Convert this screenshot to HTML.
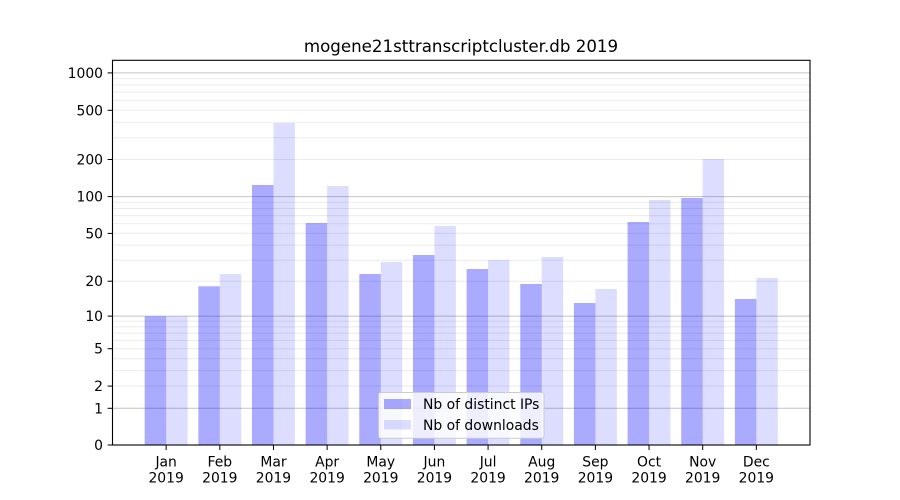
<!DOCTYPE html>
<html>
<head>
<meta charset="utf-8">
<style>
html,body{margin:0;padding:0;background:#fff;}
svg{display:block;}
text{font-family:"DejaVu Sans","Liberation Sans",sans-serif;fill:#000;}
</style>
</head>
<body>
<svg width="900" height="500" viewBox="0 0 900 500" xmlns="http://www.w3.org/2000/svg">
<rect x="0" y="0" width="900" height="500" fill="#fff"/>
<!-- minor grid -->
<g stroke="#ebebeb" stroke-width="1">
<line x1="112.5" x2="810" y1="386.1" y2="386.1"/>
<line x1="112.5" x2="810" y1="370.6" y2="370.6"/>
<line x1="112.5" x2="810" y1="358.6" y2="358.6"/>
<line x1="112.5" x2="810" y1="348.7" y2="348.7"/>
<line x1="112.5" x2="810" y1="340.4" y2="340.4"/>
<line x1="112.5" x2="810" y1="333.2" y2="333.2"/>
<line x1="112.5" x2="810" y1="326.9" y2="326.9"/>
<line x1="112.5" x2="810" y1="321.2" y2="321.2"/>
<line x1="112.5" x2="810" y1="281.2" y2="281.2"/>
<line x1="112.5" x2="810" y1="260.2" y2="260.2"/>
<line x1="112.5" x2="810" y1="245.2" y2="245.2"/>
<line x1="112.5" x2="810" y1="233.4" y2="233.4"/>
<line x1="112.5" x2="810" y1="223.7" y2="223.7"/>
<line x1="112.5" x2="810" y1="215.6" y2="215.6"/>
<line x1="112.5" x2="810" y1="208.5" y2="208.5"/>
<line x1="112.5" x2="810" y1="202.2" y2="202.2"/>
<line x1="112.5" x2="810" y1="159.5" y2="159.5"/>
<line x1="112.5" x2="810" y1="137.7" y2="137.7"/>
<line x1="112.5" x2="810" y1="122.3" y2="122.3"/>
<line x1="112.5" x2="810" y1="110.3" y2="110.3"/>
<line x1="112.5" x2="810" y1="100.4" y2="100.4"/>
<line x1="112.5" x2="810" y1="92.1" y2="92.1"/>
<line x1="112.5" x2="810" y1="85.0" y2="85.0"/>
<line x1="112.5" x2="810" y1="78.6" y2="78.6"/>
</g>
<!-- major grid -->
<g stroke="#c4c4c4" stroke-width="1">
<line x1="112.5" x2="810" y1="408.3" y2="408.3"/>
<line x1="112.5" x2="810" y1="316.1" y2="316.1"/>
<line x1="112.5" x2="810" y1="196.6" y2="196.6"/>
<line x1="112.5" x2="810" y1="72.9" y2="72.9"/>
</g>
<!-- bars: distinct IPs -->
<g fill="#0000ff" fill-opacity="0.333">
<rect x="144.69" y="316.3" width="21.46" height="128.7"/>
<rect x="198.35" y="286.3" width="21.46" height="158.7"/>
<rect x="252.00" y="185" width="21.46" height="260"/>
<rect x="305.66" y="223" width="21.46" height="222"/>
<rect x="359.31" y="274" width="21.46" height="171"/>
<rect x="412.96" y="255" width="21.46" height="190"/>
<rect x="466.62" y="269" width="21.46" height="176"/>
<rect x="520.27" y="284" width="21.46" height="161"/>
<rect x="573.92" y="303" width="21.46" height="142"/>
<rect x="627.58" y="222" width="21.46" height="223"/>
<rect x="681.23" y="198" width="21.46" height="247"/>
<rect x="734.89" y="299" width="21.46" height="146"/>
</g>
<!-- bars: downloads -->
<g fill="#0000ff" fill-opacity="0.135">
<rect x="166.15" y="316.3" width="21.46" height="128.7"/>
<rect x="219.81" y="274" width="21.46" height="171"/>
<rect x="273.46" y="123" width="21.46" height="322"/>
<rect x="327.12" y="186" width="21.46" height="259"/>
<rect x="380.77" y="262" width="21.46" height="183"/>
<rect x="434.42" y="226" width="21.46" height="219"/>
<rect x="488.08" y="260" width="21.46" height="185"/>
<rect x="541.73" y="257" width="21.46" height="188"/>
<rect x="595.38" y="289" width="21.46" height="156"/>
<rect x="649.04" y="200" width="21.46" height="245"/>
<rect x="702.69" y="159" width="21.46" height="286"/>
<rect x="756.35" y="278" width="21.46" height="167"/>
</g>
<!-- axes frame -->
<rect x="112.5" y="60.3" width="697.5" height="384.7" fill="none" stroke="#000" stroke-width="1.1"/>
<!-- y ticks -->
<g stroke="#000" stroke-width="1">
<line x1="107.6" x2="112.5" y1="445" y2="445"/>
<line x1="107.6" x2="112.5" y1="408.3" y2="408.3"/>
<line x1="107.6" x2="112.5" y1="386.1" y2="386.1"/>
<line x1="107.6" x2="112.5" y1="348.7" y2="348.7"/>
<line x1="107.6" x2="112.5" y1="316.1" y2="316.1"/>
<line x1="107.6" x2="112.5" y1="281.2" y2="281.2"/>
<line x1="107.6" x2="112.5" y1="233.4" y2="233.4"/>
<line x1="107.6" x2="112.5" y1="196.6" y2="196.6"/>
<line x1="107.6" x2="112.5" y1="159.5" y2="159.5"/>
<line x1="107.6" x2="112.5" y1="110.3" y2="110.3"/>
<line x1="107.6" x2="112.5" y1="72.9" y2="72.9"/>
</g>
<g font-size="13.9" text-anchor="end">
<text x="103" y="450">0</text>
<text x="103" y="413.3">1</text>
<text x="103" y="391.1">2</text>
<text x="103" y="353.7">5</text>
<text x="103" y="321.1">10</text>
<text x="103" y="286.2">20</text>
<text x="103" y="238.4">50</text>
<text x="103" y="201.6">100</text>
<text x="103" y="164.5">200</text>
<text x="103" y="115.3">500</text>
<text x="103" y="77.9">1000</text>
</g>
<!-- x ticks -->
<g stroke="#000" stroke-width="1">
<line x1="166.15" x2="166.15" y1="445" y2="450"/>
<line x1="219.81" x2="219.81" y1="445" y2="450"/>
<line x1="273.46" x2="273.46" y1="445" y2="450"/>
<line x1="327.12" x2="327.12" y1="445" y2="450"/>
<line x1="380.77" x2="380.77" y1="445" y2="450"/>
<line x1="434.42" x2="434.42" y1="445" y2="450"/>
<line x1="488.08" x2="488.08" y1="445" y2="450"/>
<line x1="541.73" x2="541.73" y1="445" y2="450"/>
<line x1="595.38" x2="595.38" y1="445" y2="450"/>
<line x1="649.04" x2="649.04" y1="445" y2="450"/>
<line x1="702.69" x2="702.69" y1="445" y2="450"/>
<line x1="756.35" x2="756.35" y1="445" y2="450"/>
</g>
<g font-size="13.9" text-anchor="middle">
<text x="166.15" y="466.5">Jan</text><text x="166.15" y="482.5">2019</text>
<text x="219.81" y="466.5">Feb</text><text x="219.81" y="482.5">2019</text>
<text x="273.46" y="466.5">Mar</text><text x="273.46" y="482.5">2019</text>
<text x="327.12" y="466.5">Apr</text><text x="327.12" y="482.5">2019</text>
<text x="380.77" y="466.5">May</text><text x="380.77" y="482.5">2019</text>
<text x="434.42" y="466.5">Jun</text><text x="434.42" y="482.5">2019</text>
<text x="488.08" y="466.5">Jul</text><text x="488.08" y="482.5">2019</text>
<text x="541.73" y="466.5">Aug</text><text x="541.73" y="482.5">2019</text>
<text x="595.38" y="466.5">Sep</text><text x="595.38" y="482.5">2019</text>
<text x="649.04" y="466.5">Oct</text><text x="649.04" y="482.5">2019</text>
<text x="702.69" y="466.5">Nov</text><text x="702.69" y="482.5">2019</text>
<text x="756.35" y="466.5">Dec</text><text x="756.35" y="482.5">2019</text>
</g>
<!-- title -->
<text x="461" y="52" font-size="16.67" text-anchor="middle">mogene21sttranscriptcluster.db 2019</text>
<!-- legend -->
<rect x="378.5" y="392.5" width="165.5" height="45.8" rx="2.5" ry="2.5" fill="#fff" fill-opacity="0.8" stroke="#cccccc" stroke-width="1"/>
<rect x="384" y="399" width="27" height="10" fill="#0000ff" fill-opacity="0.333"/>
<rect x="384" y="420" width="27" height="9.5" fill="#0000ff" fill-opacity="0.135"/>
<text x="423" y="409" font-size="13.9">Nb of distinct IPs</text>
<text x="423" y="430" font-size="13.9">Nb of downloads</text>
</svg>
</body>
</html>
